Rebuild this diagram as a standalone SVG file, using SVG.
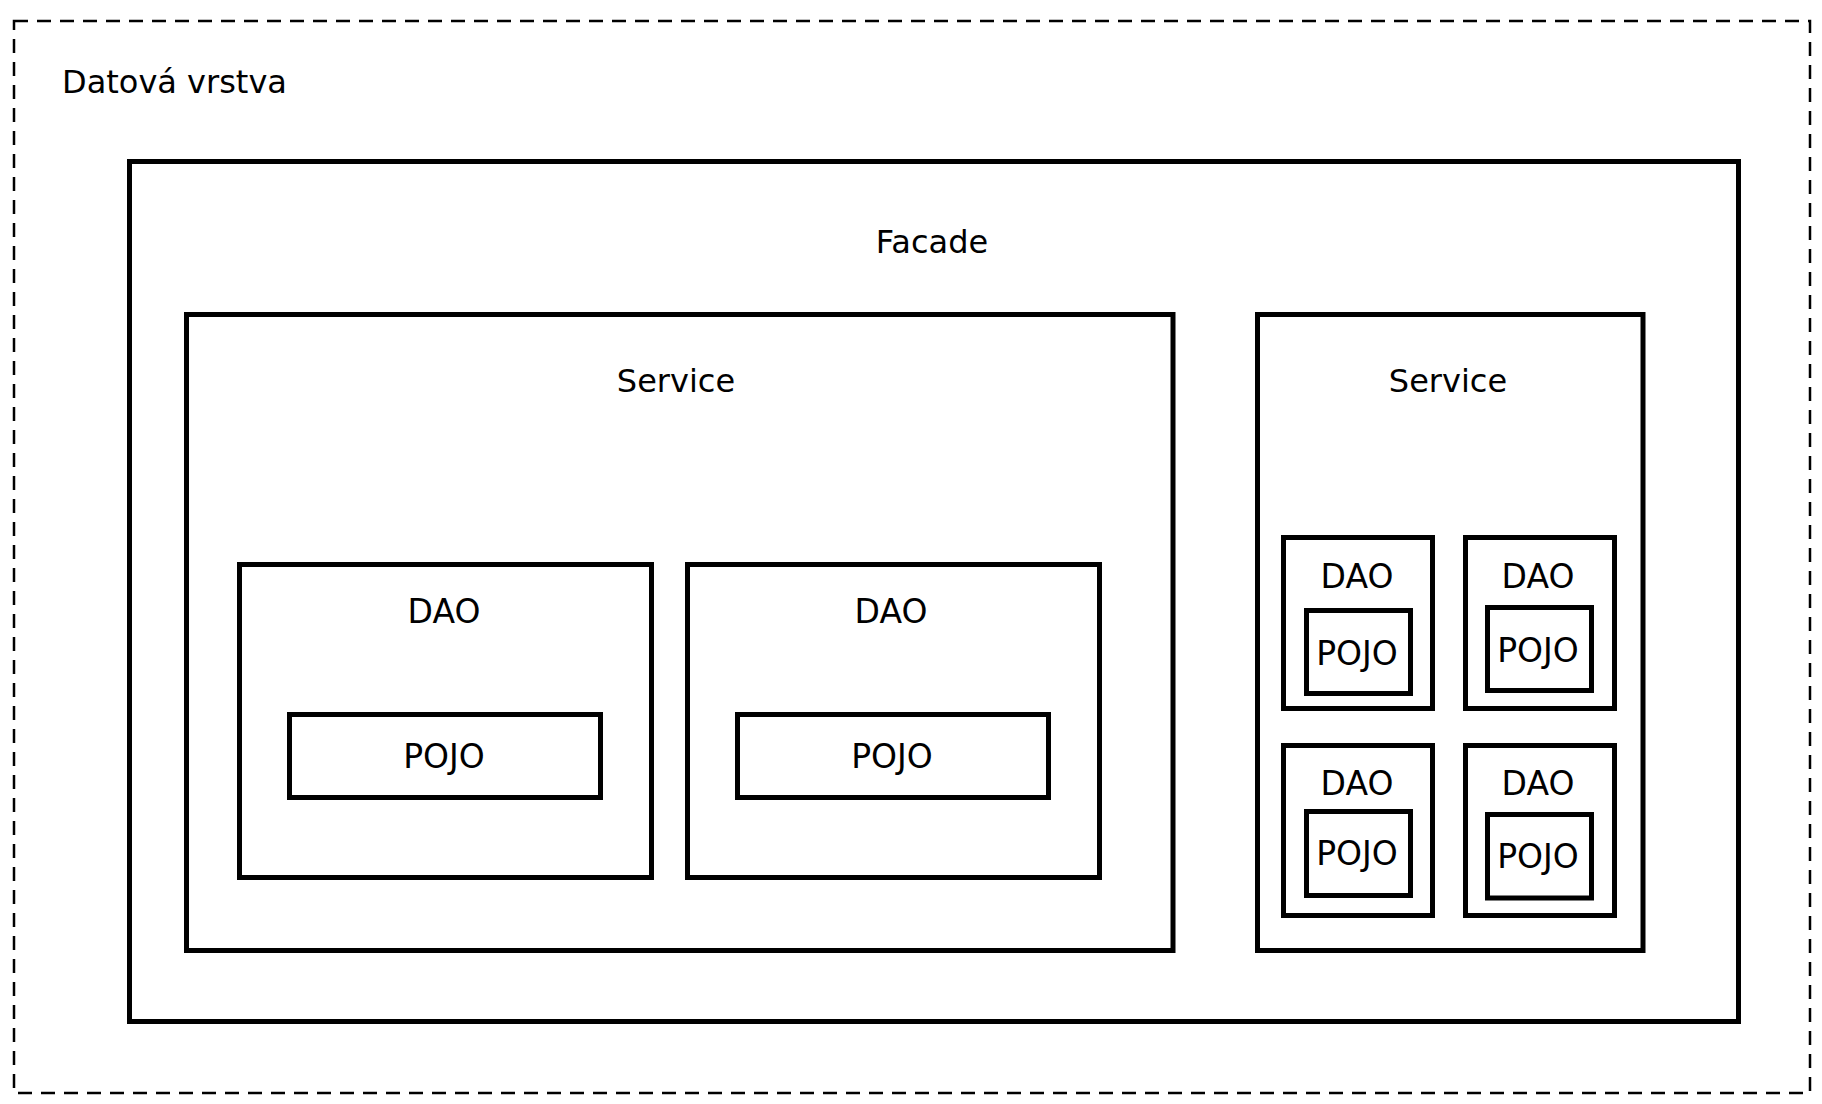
<svg xmlns="http://www.w3.org/2000/svg" width="1822" height="1104" viewBox="0 0 1822 1104">
<style>
  .box { fill: none; stroke: #000; stroke-width: 5; }
  .outer { fill: none; stroke: #000; stroke-width: 2.5; stroke-dasharray: 14 9; }
  text { font-family: "DejaVu Sans", "Liberation Sans", sans-serif; font-size: 32px; fill: #000; }
  .c { text-anchor: middle; }
  .s { font-size: 33px; }
</style>
<rect x="0" y="0" width="1822" height="1104" fill="#fff"/>
<g id="datova-vrstva">
  <rect class="outer" x="14" y="21" width="1796" height="1072"/>
  <text x="62" y="93">Datová vrstva</text>
</g>
<g id="facade">
  <rect class="box" x="129.5" y="161.5" width="1609" height="860"/>
  <text class="c" x="932" y="253">Facade</text>
</g>
<g id="service-left">
  <rect class="box" x="186.5" y="314.5" width="986.5" height="636"/>
  <text class="c" x="676" y="392">Service</text>
</g>
<g id="service-right">
  <rect class="box" x="1257.5" y="314.5" width="385.5" height="636"/>
  <text class="c" x="1448" y="392">Service</text>
</g>
<g id="dao-1">
  <rect class="box" x="239.5" y="564.5" width="412" height="313"/>
  <text class="c s" x="444" y="623">DAO</text>
</g>
<g id="pojo-1">
  <rect class="box" x="289.5" y="714.5" width="311" height="83"/>
  <text class="c s" x="444" y="768">POJO</text>
</g>
<g id="dao-2">
  <rect class="box" x="687.5" y="564.5" width="412" height="313"/>
  <text class="c s" x="891" y="623">DAO</text>
</g>
<g id="pojo-2">
  <rect class="box" x="737.5" y="714.5" width="311" height="83"/>
  <text class="c s" x="892" y="768">POJO</text>
</g>
<g id="dao-3">
  <rect class="box" x="1283.5" y="537.5" width="149" height="171"/>
  <text class="c s" x="1357" y="588">DAO</text>
</g>
<g id="pojo-3">
  <rect class="box" x="1306.5" y="610.5" width="104" height="83"/>
  <text class="c s" x="1357" y="665">POJO</text>
</g>
<g id="dao-4">
  <rect class="box" x="1465.5" y="537.5" width="149" height="171"/>
  <text class="c s" x="1538" y="588">DAO</text>
</g>
<g id="pojo-4">
  <rect class="box" x="1487.5" y="607.5" width="104" height="83"/>
  <text class="c s" x="1538" y="662">POJO</text>
</g>
<g id="dao-5">
  <rect class="box" x="1283.5" y="745.5" width="149" height="170"/>
  <text class="c s" x="1357" y="795">DAO</text>
</g>
<g id="pojo-5">
  <rect class="box" x="1306.5" y="811.5" width="104" height="84"/>
  <text class="c s" x="1357" y="865">POJO</text>
</g>
<g id="dao-6">
  <rect class="box" x="1465.5" y="745.5" width="149" height="170"/>
  <text class="c s" x="1538" y="795">DAO</text>
</g>
<g id="pojo-6">
  <rect class="box" x="1487.5" y="814.5" width="104" height="83.5"/>
  <text class="c s" x="1538" y="868">POJO</text>
</g>
<g id="connectors"></g>
</svg>
